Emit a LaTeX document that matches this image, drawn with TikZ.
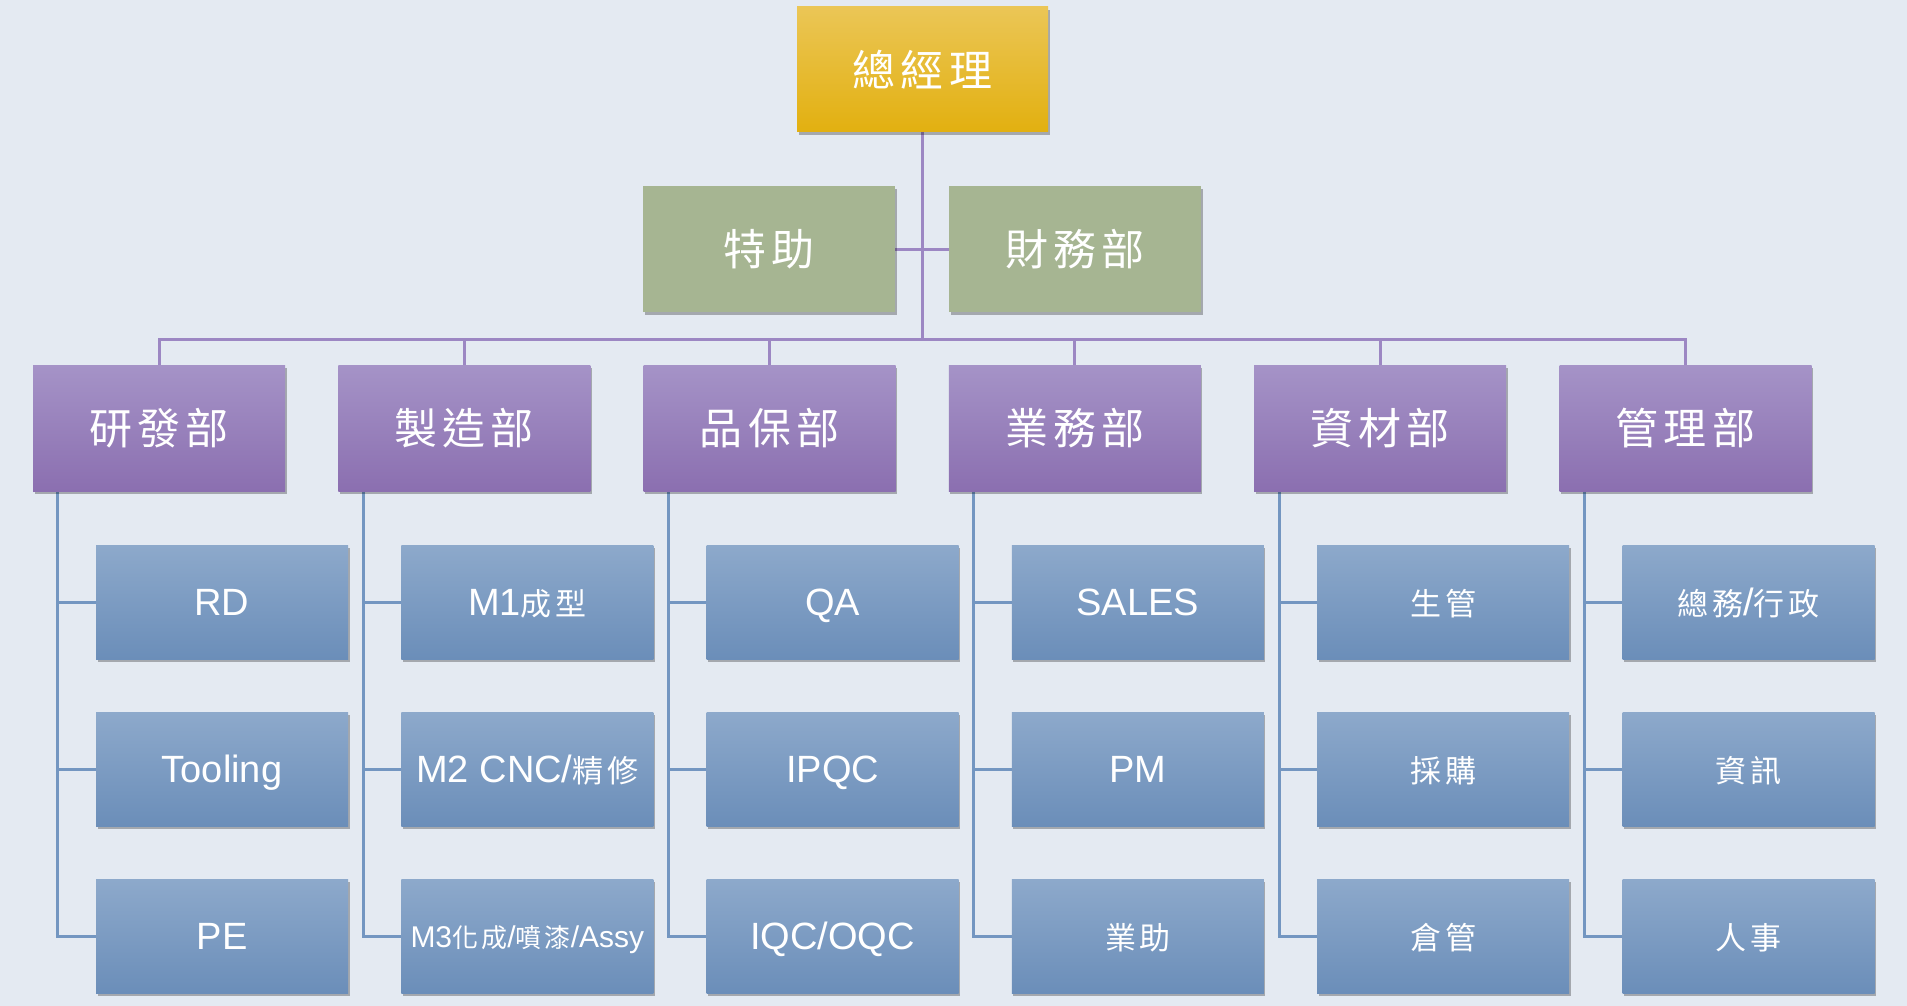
\documentclass[tikz,border=0pt]{standalone}
\usepackage{fontspec}
\setmainfont{Liberation Sans}
\newfontfamily\cjk[LetterSpace=12]{Noto Sans CJK TC}
\usetikzlibrary{shadows}
\pgfdeclarelayer{bglayer}
\pgfdeclarelayer{lines}
\pgfsetlayers{bglayer,lines,main}
\definecolor{bgc}{HTML}{E4EAF2}
\definecolor{goldT}{HTML}{EBC656}
\definecolor{goldB}{HTML}{E2B010}
\definecolor{greenc}{HTML}{A6B592}
\definecolor{purT}{HTML}{A593C7}
\definecolor{purB}{HTML}{8B6FB0}
\definecolor{bluT}{HTML}{8DA9CB}
\definecolor{bluB}{HTML}{6B8EB9}
\definecolor{pline}{HTML}{9C87C3}
\definecolor{bline}{HTML}{7396C1}
\newcommand{\BigC}[1]{{\cjk\fontsize{43}{47}\selectfont #1}}
\newcommand{\SmC}[1]{{\cjk\fontsize{31}{35}\selectfont #1}}
\newcommand{\SmL}[1]{{\fontsize{38}{41}\selectfont #1}}
\tikzset{
  boxbase/.style={rectangle, inner sep=0pt, text=white, align=center,
    drop shadow={shadow xshift=1.5pt, shadow yshift=-3pt, fill=black, opacity=0.28}},
  topbox/.style={boxbase, minimum width=251pt, minimum height=125pt,
    top color=goldT, bottom color=goldB},
  greenbox/.style={boxbase, minimum width=252pt, minimum height=126pt, fill=greenc},
  deptbox/.style={boxbase, minimum width=252pt, minimum height=126pt,
    top color=purT, bottom color=purB},
  subbox/.style={boxbase, minimum width=252pt, minimum height=114pt,
    top color=bluT, bottom color=bluB},
  lbl/.style={text=white, inner sep=0pt, anchor=base, yshift=-13pt},
  pconn/.style={draw=pline, line width=3pt},
  bconn/.style={draw=bline, line width=3pt}
}
\begin{document}
\begin{tikzpicture}[x=1pt,y=-1pt]
\begin{pgfonlayer}{bglayer}
\fill[bgc] (0,0) rectangle (1907,1006);
\end{pgfonlayer}
\useasboundingbox (0,0) rectangle (1907,1006);

% top
\node[topbox] (gm) at (922.5,69.5) {\BigC{總經理}};
\node[greenbox] (t1) at (769,249) {\BigC{特助}};
\node[greenbox] (t2) at (1075,249) {\BigC{財務部}};
\coordinate (bus) at (922.5,339);

% departments
\foreach \i/\t in {1/研發部,2/製造部,3/品保部,4/業務部,5/資材部,6/管理部}{
  \node[deptbox] (d\i) at ({159+305.3*(\i-1)},428) {\BigC{\t}};
}

% sub boxes
\foreach \i in {1,...,6}{
  \node[subbox] (s\i1) at ({222+305.3*(\i-1)},602) {};
  \node[subbox] (s\i2) at ({222+305.3*(\i-1)},769) {};
  \node[subbox] (s\i3) at ({222+305.3*(\i-1)},936) {};
}
\node[lbl] at (s11) {\SmL{RD}};
\node[lbl] at (s12) {\SmL{Tooling}};
\node[lbl] at (s13) {\SmL{PE}};
\node[lbl] at (s21) {\SmL{M1}\SmC{成型}};
\node[lbl] at (s22) {\SmL{M2 CNC/}\SmC{精修}};
\node[lbl, yshift=2pt] at (s23) {{\fontsize{30}{34}\selectfont M3}{\cjk\fontsize{26}{30}\selectfont 化成}{\fontsize{30}{34}\selectfont /}{\cjk\fontsize{26}{30}\selectfont 噴漆}{\fontsize{30}{34}\selectfont /Assy}};
\node[lbl] at (s31) {\SmL{QA}};
\node[lbl] at (s32) {\SmL{IPQC}};
\node[lbl] at (s33) {\SmL{IQC/OQC}};
\node[lbl] at (s41) {\SmL{SALES}};
\node[lbl] at (s42) {\SmL{PM}};
\node[lbl] at (s43) {\SmC{業助}};
\node[lbl] at (s51) {\SmC{生管}};
\node[lbl] at (s52) {\SmC{採購}};
\node[lbl] at (s53) {\SmC{倉管}};
\node[lbl] at (s61) {\SmC{總務}\SmL{/}\SmC{行政}};
\node[lbl] at (s62) {\SmC{資訊}};
\node[lbl] at (s63) {\SmC{人事}};

% connectors
\begin{pgfonlayer}{lines}
\draw[pconn] (gm.south) -- (bus);
\draw[pconn] (t1.east) -- (t2.west);
\foreach \i in {1,...,6}{
  \draw[pconn] (d\i.north) |- (bus);
  \coordinate (v\i) at ([xshift=25pt]d\i.south west);
  \draw[bconn] (v\i) |- (s\i3.west);
  \draw[bconn] (v\i |- s\i1.west) -- (s\i1.west);
  \draw[bconn] (v\i |- s\i2.west) -- (s\i2.west);
}
\end{pgfonlayer}
\end{tikzpicture}
\end{document}
